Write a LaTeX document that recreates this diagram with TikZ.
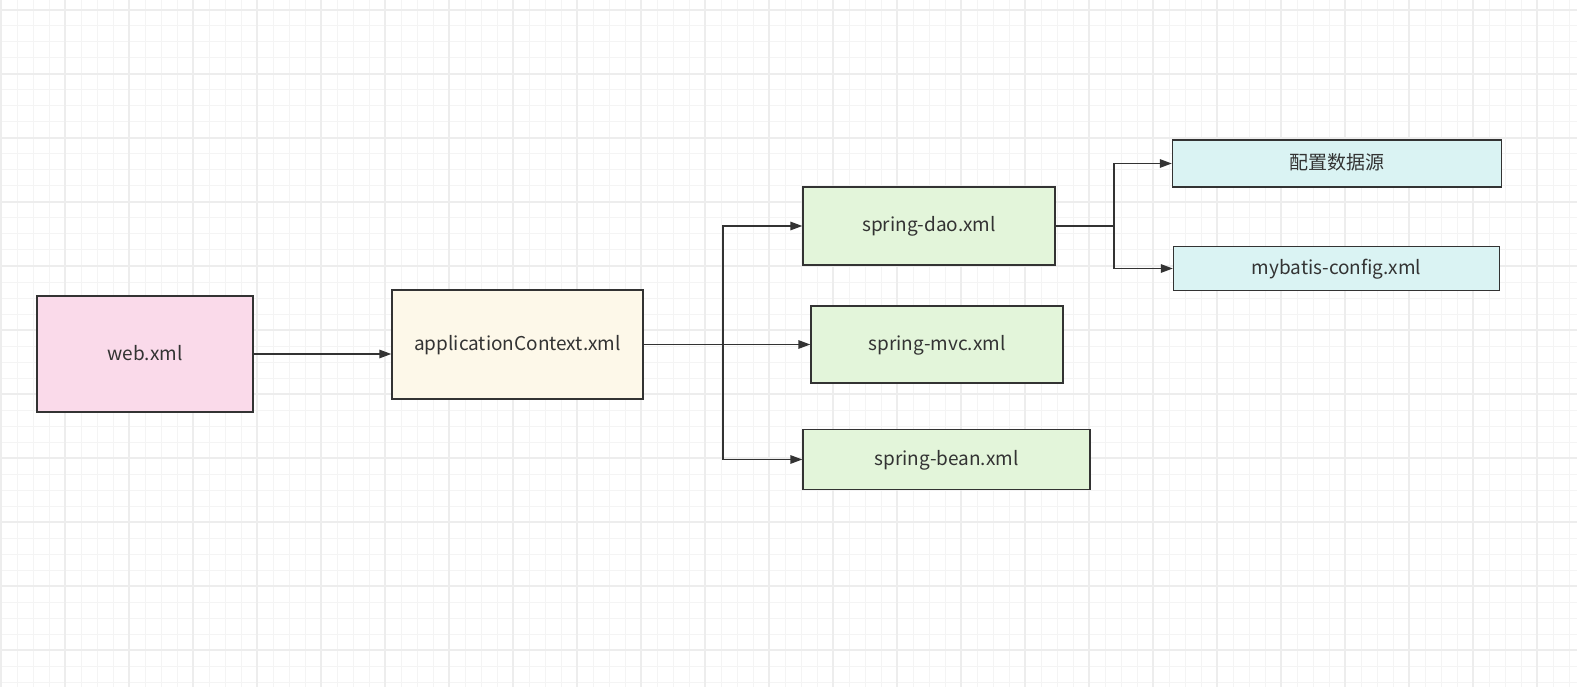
\documentclass[tikz,border=0pt]{standalone}
\usepackage{fontspec}
\setmainfont{Noto Sans CJK SC}
\usetikzlibrary{arrows.meta}
\definecolor{gridminor}{HTML}{F4F4F4}
\definecolor{gridmajor}{HTML}{EDEDED}
\definecolor{strokec}{HTML}{333333}
\definecolor{textc}{HTML}{333333}
\definecolor{pinkf}{HTML}{FADAEA}
\definecolor{creamf}{HTML}{FDF8E9}
\definecolor{greenf}{HTML}{E3F5DA}
\definecolor{cyanf}{HTML}{DAF3F3}
\tikzset{
  box/.style={draw=strokec, line width=1.4pt, text=textc, font=\fontsize{19}{21}\selectfont, inner sep=0pt, text height=1.2em, text depth=0pt},
  conn/.style={draw=strokec, line width=1.4pt, -{Triangle[length=12pt,width=8.5pt]}},
  plain/.style={draw=strokec, line width=1.4pt}
}
\begin{document}
\begin{tikzpicture}[x=1pt,y=-1pt]
\useasboundingbox (0,0) rectangle (1577,687);
\fill[white] (0,0) rectangle (1577,687);
% grid
\foreach \i in {0,...,98} {
  \draw[gridminor, line width=1pt] ({1+16*\i},0) -- ({1+16*\i},687);
}
\foreach \j in {0,...,42} {
  \draw[gridminor, line width=1pt] (0,{10+16*\j}) -- (1577,{10+16*\j});
}
\foreach \i in {0,...,24} {
  \draw[gridmajor, line width=1.6pt] ({1+64*\i},0) -- ({1+64*\i},687);
}
\foreach \j in {0,...,10} {
  \draw[gridmajor, line width=1.6pt] (0,{10+64*\j}) -- (1577,{10+64*\j});
}
% nodes
\node[box, fill=pinkf, minimum width=216pt, minimum height=116pt] (web) at (145,354) {web.xml};
\node[box, fill=creamf, minimum width=251pt, minimum height=109pt] (app) at (517.5,344.5) {applicationContext.xml};
\node[box, fill=greenf, minimum width=252pt, minimum height=78pt] (dao) at (929,226) {spring-dao.xml};
\node[box, fill=greenf, minimum width=252pt, minimum height=77pt] (mvc) at (937,344.5) {spring-mvc.xml};
\node[box, fill=greenf, minimum width=287pt, minimum height=60pt] (bean) at (946.5,459.5) {spring-bean.xml};
\node[box, fill=cyanf, minimum width=329pt, minimum height=47pt] (ds) at (1337,163.5) {配置数据源};
\node[box, fill=cyanf, minimum width=326pt, minimum height=44pt] (mb) at (1336.5,268.5) {mybatis-config.xml};
% junctions
\coordinate (j1) at (723,344.5);
\coordinate (j2) at (1114,226);
% connectors
\draw[conn] (web.east |- 0,354) -- (app.west |- 0,354);
\draw[plain] (app.east) -- (j1);
\draw[conn] (j1) |- (dao.west);
\draw[conn] (j1) -- (mvc.west);
\draw[conn] (j1) |- (bean.west);
\draw[plain] (dao.east) -- (j2);
\draw[conn] (j2) |- (ds.west);
\draw[conn] (j2) |- (mb.west);
\end{tikzpicture}
\end{document}
